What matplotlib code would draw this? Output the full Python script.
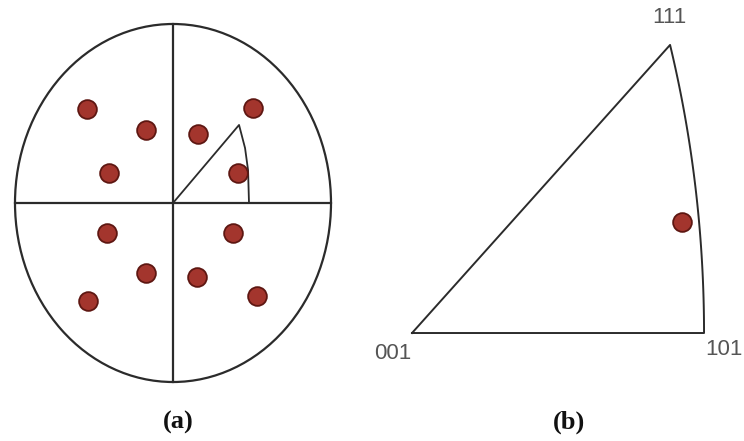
import numpy as np
import matplotlib
matplotlib.use("Agg")
import matplotlib.pyplot as plt
from matplotlib.patches import Ellipse

# (a) pole figure: pole positions on the unit projection circle
pole_x = [-0.544, -0.171, 0.158, 0.506, -0.405, 0.411,
          -0.418, 0.380, -0.171, 0.152, -0.538, 0.532]
pole_y = [0.525, 0.408, 0.385, 0.531, 0.168, 0.168,
          -0.168, -0.168, -0.391, -0.413, -0.547, -0.520]

# unit triangle drawn inside the first quadrant of the pole figure
tri_x = [0.0, 0.418, 0.456, 0.475, 0.481, 0.0]
tri_y = [0.0, 0.436, 0.307, 0.184, 0.0, 0.0]

# (b) inverse pole figure: corners and the single orientation
corner_labels = ["001", "101", "111"]
ipf_point = (0.383, 0.141)

dot_face = "#a3352d"
dot_edge = "#5e1712"
line_col = "#2b2b2b"

fig = plt.figure(figsize=(7.44, 4.41), dpi=100)

# ---- (a) ----
ax1 = fig.add_axes([15 / 744, 59 / 441, 316 / 744, 358 / 441])
ax1.set_xlim(-1, 1)
ax1.set_ylim(-1, 1)
ax1.axis("off")
ax1.add_patch(Ellipse((0, 0), 2, 2, fill=False, lw=1.6, ec=line_col,
                      clip_on=False))
ax1.plot([-1, 1], [0, 0], color=line_col, lw=1.6, clip_on=False)
ax1.plot([0, 0], [-1, 1], color=line_col, lw=1.6, clip_on=False)
ax1.plot(tri_x, tri_y, color=line_col, lw=1.3)
ax1.plot(pole_x, pole_y, "o", ms=13.5, mfc=dot_face, mec=dot_edge, mew=1.3)

# ---- (b) ----
# stereographic projection of the standard triangle 001-101-111
s = np.linspace(0, 1, 60)
n = np.sqrt(2 + s ** 2)
arc_x = 1 / (n + 1)
arc_y = s / (n + 1)
p001 = (0.0, 0.0)
p101 = (arc_x[0], arc_y[0])
p111 = (arc_x[-1], arc_y[-1])

ax2 = fig.add_axes([360 / 744, 0, 384 / 744, 1])
ax2.set_xlim(-0.0738, 0.4709)
ax2.set_ylim(-0.1372, 0.4231)
ax2.axis("off")
bx = np.concatenate([[p001[0]], arc_x, [p111[0], p001[0]]])
by = np.concatenate([[p001[1]], arc_y, [p111[1], p001[1]]])
ax2.plot(bx, by, color=line_col, lw=1.4)
ax2.plot(*ipf_point, "o", ms=13.5, mfc=dot_face, mec=dot_edge, mew=1.3)

offsets = [(-19, -20), (20, -16), (-1, 27)]
for lab, pt, off in zip(corner_labels, [p001, p101, p111], offsets):
    ax2.annotate(lab, pt, xytext=off, textcoords="offset pixels",
                 ha="center", va="center", fontsize=16,
                 family="Liberation Sans", color="#555555",
                 annotation_clip=False)

# panel captions
for lab, x in [("(a)", 178 / 744), ("(b)", 569 / 744)]:
    fig.text(x, 1 - 422 / 441, lab, ha="center", va="center",
             fontsize=19, fontweight="bold", family="Liberation Serif",
             color="#111111")

fig.savefig("out.png", dpi=100)
